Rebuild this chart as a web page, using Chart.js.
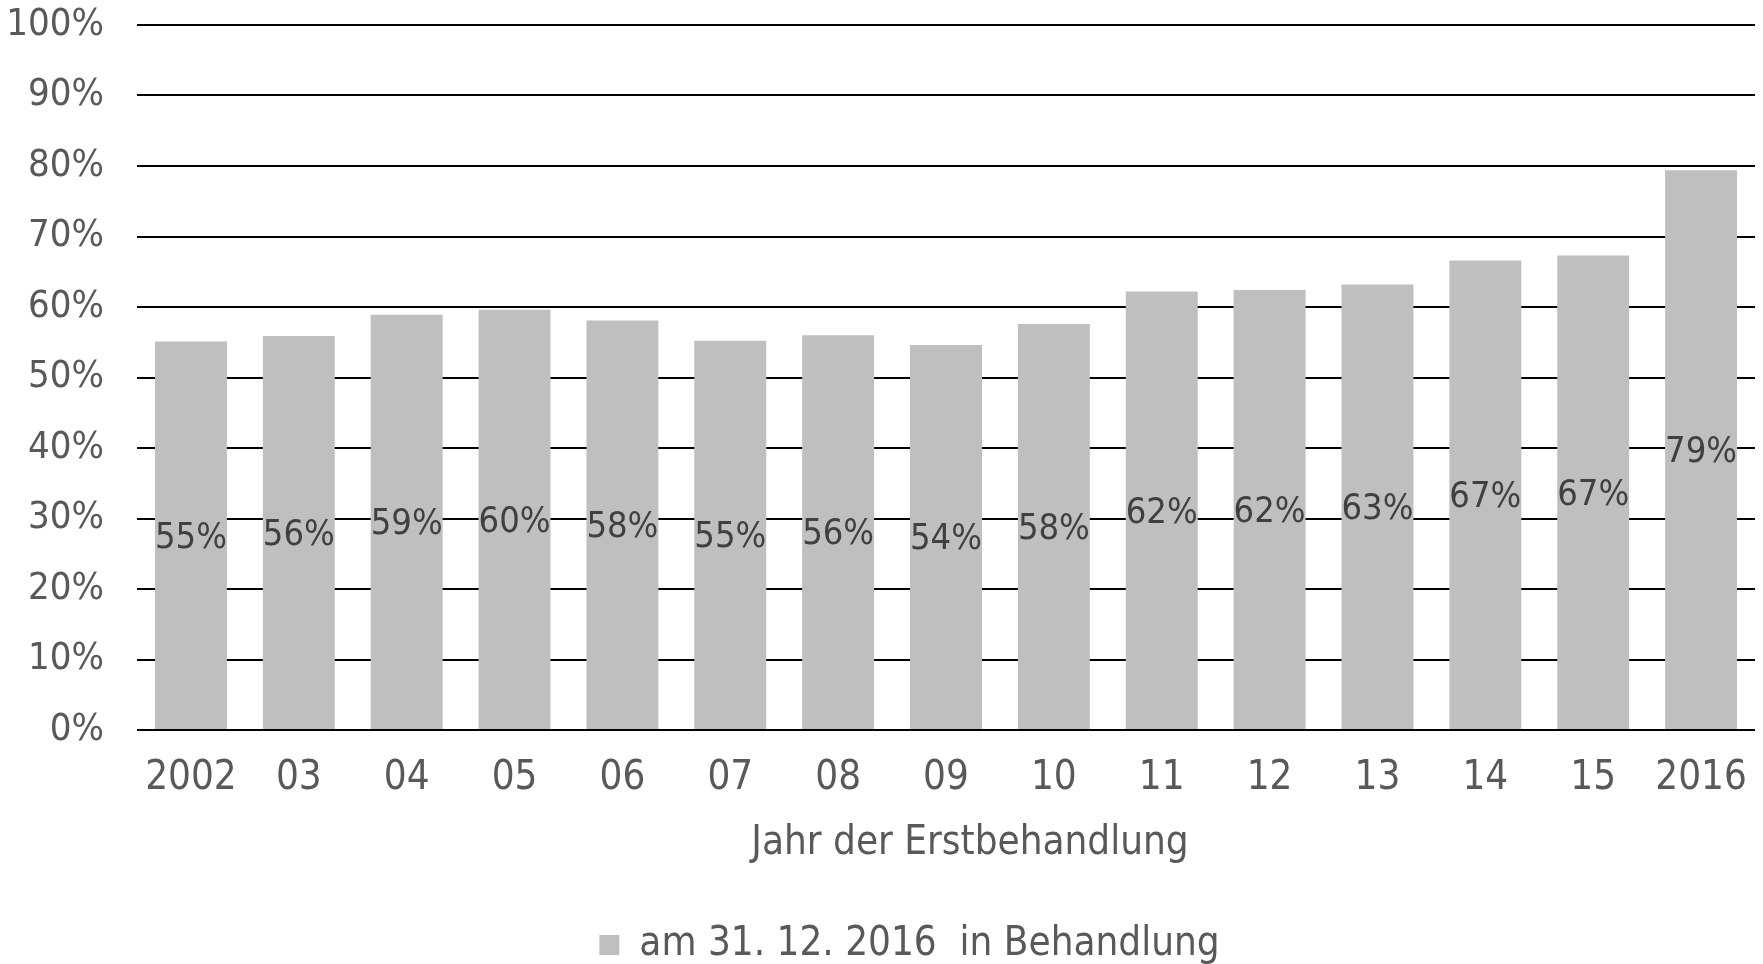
<!DOCTYPE html>
<html>
<head>
<meta charset="utf-8">
<script src="https://cdn.jsdelivr.net/npm/chart.js@4/dist/chart.umd.min.js"></script>
<style>
  html, body { margin: 0; padding: 0; background: #ffffff; }
  #wrap { width: 1763px; height: 964px; }
</style>
</head>
<body>
<div id="wrap"><canvas id="c" width="1763" height="964"></canvas></div>
<script>
const categories = ["2002", "03", "04", "05", "06", "07", "08", "09", "10", "11", "12", "13", "14", "15", "2016"];
const shareInTreatment = [55.1, 55.9, 58.9, 59.6, 58.1, 55.2, 56.0, 54.6, 57.6, 62.2, 62.4, 63.2, 66.6, 67.3, 79.4];
const dataLabels = ["55%", "56%", "59%", "60%", "58%", "55%", "56%", "54%", "58%", "62%", "62%", "63%", "67%", "67%", "79%"];
const yTickValues = [0, 10, 20, 30, 40, 50, 60, 70, 80, 90, 100];
const seriesName = "am 31. 12. 2016  in Behandlung";
const xAxisTitle = "Jahr der Erstbehandlung";

const FONT = "'DejaVu Sans Condensed', 'DejaVu Sans', sans-serif";
const BAR = "#bfbfbf";
const TEXT = "#595959";

const barLabelPlugin = {
  id: 'barLabels',
  afterDatasetsDraw(chart) {
    const ctx = chart.ctx;
    const meta = chart.getDatasetMeta(0);
    ctx.save();
    ctx.font = "36px " + FONT;
    ctx.fillStyle = "#404040";
    ctx.textAlign = "center";
    ctx.textBaseline = "middle";
    meta.data.forEach((el, i) => {
      const p = el.getProps(['x', 'y', 'base'], true);
      ctx.fillText(dataLabels[i], p.x, (p.y + p.base) / 2 + 3);
    });
    ctx.restore();
  }
};

const layoutTweaks = {
  id: 'layoutTweaks',
  afterLayout(chart) {
    const lg = chart.legend;
    if (lg) {
      lg.top += 11; lg.bottom += 11;
      lg.left += 32; lg.right += 32;
    }
    const sx = chart.scales.x;
    if (sx && !sx._titleShifted) {
      const orig = sx.drawTitle.bind(sx);
      sx.drawTitle = function () {
        this.ctx.save();
        this.ctx.translate(24, 0);
        orig();
        this.ctx.restore();
      };
      sx._titleShifted = true;
    }
  }
};

new Chart(document.getElementById('c'), {
  type: 'bar',
  data: {
    labels: categories,
    datasets: [{
      label: seriesName,
      data: shareInTreatment,
      backgroundColor: BAR,
      borderWidth: 0,
      barPercentage: 0.667,
      categoryPercentage: 1.0
    }]
  },
  options: {
    responsive: false,
    devicePixelRatio: 1,
    animation: false,
    layout: { padding: { top: 0, right: 8, left: 0, bottom: 0 } },
    plugins: {
      legend: {
        position: 'bottom',
        labels: {
          font: { family: FONT, size: 40 },
          color: TEXT,
          boxWidth: 20,
          boxHeight: 20,
          padding: 10
        }
      },
      tooltip: { enabled: false }
    },
    scales: {
      x: {
        grid: { display: false, drawTicks: true, tickLength: 25 },
        border: { display: false },
        ticks: {
          font: { family: FONT, size: 40, lineHeight: 1.2 },
          color: TEXT,
          padding: 0,
          maxRotation: 0,
          autoSkip: false
        },
        title: {
          display: true,
          text: xAxisTitle,
          font: { family: FONT, size: 40, lineHeight: 1.2 },
          color: TEXT,
          padding: { top: 0, bottom: 36 }
        },
        afterFit(scale) { scale.height = 174; }
      },
      y: {
        min: 0,
        max: 100,
        afterBuildTicks(scale) { scale.ticks = yTickValues.map(v => ({ value: v })); },
        ticks: {
          font: { family: FONT, size: 38, lineHeight: 1 },
          color: TEXT,
          padding: 6,
          callback: v => v + '%'
        },
        grid: { color: '#000000', lineWidth: 2, drawTicks: true, tickLength: 27, tickColor: 'rgba(0,0,0,0)' },
        border: { display: false },
        afterFit(scale) { scale.width = 137; }
      }
    }
  },
  plugins: [barLabelPlugin, layoutTweaks]
});
</script>
</body>
</html>
